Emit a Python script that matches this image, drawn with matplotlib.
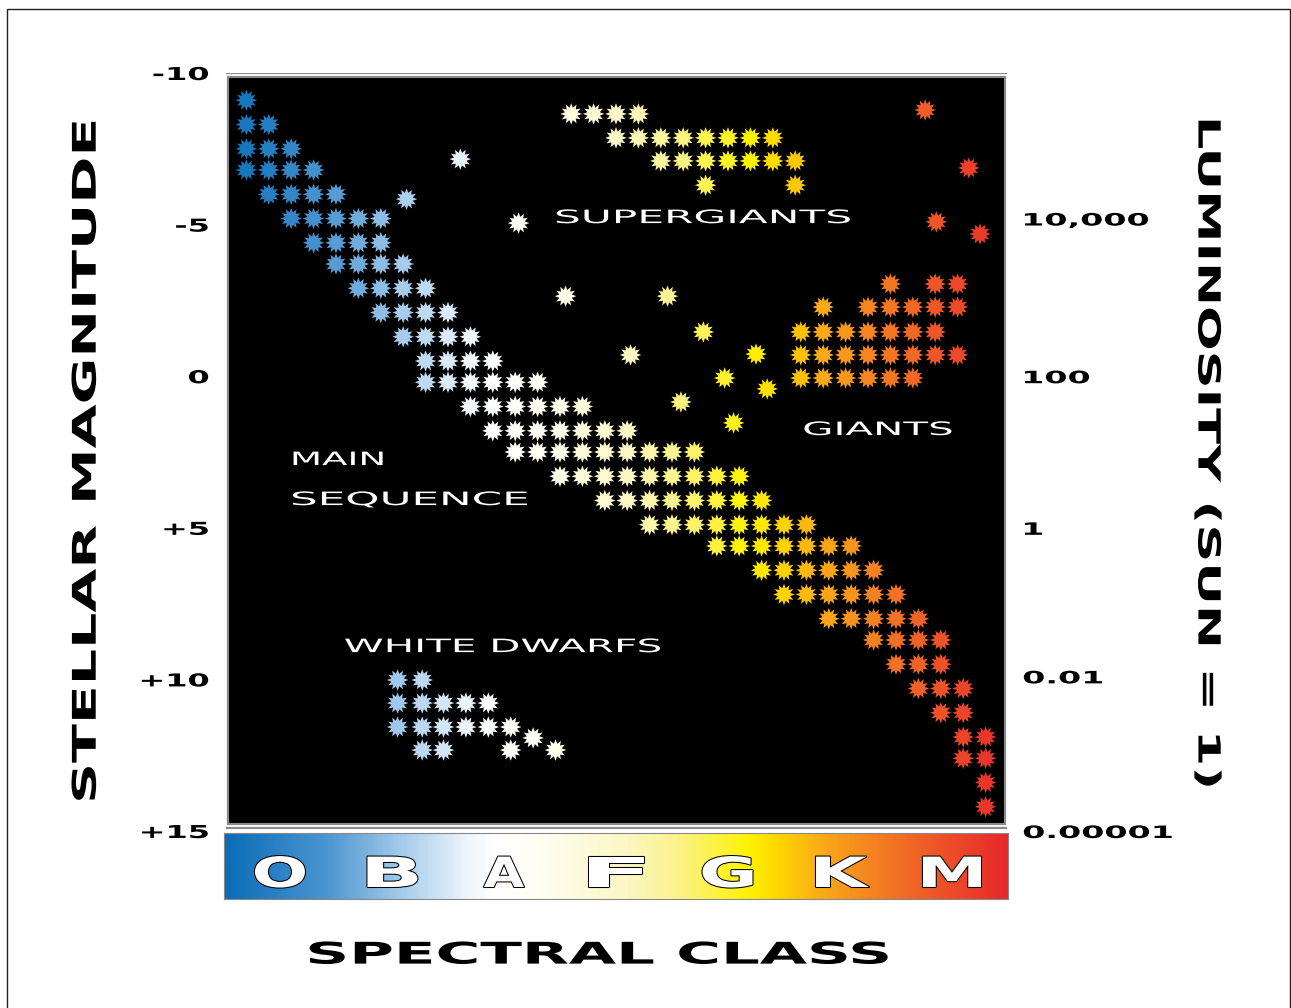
import numpy as np
import matplotlib
matplotlib.use('Agg')
import matplotlib.pyplot as plt
from matplotlib import patheffects
from matplotlib.colors import LinearSegmentedColormap
from matplotlib.patches import Rectangle
from matplotlib.path import Path
from matplotlib.transforms import Affine2D

plt.rcParams['font.family'] = 'DejaVu Sans'

# ---- data (spectral class 0..7 = O..M, absolute magnitude) ----
classes = ['O', 'B', 'A', 'F', 'G', 'K', 'M']
class_pos = [0.5, 1.5, 2.5, 3.5, 4.5, 5.5, 6.5]

mag_ticks = [-10, -5, 0, 5, 10, 15]
mag_labels = ['-10', '-5', '0', '+5', '+10', '+15']
lum_ticks = [-5.2, 0, 5, 9.9, 15]
lum_labels = ['10,000', '100', '1', '0.01', '0.00001']

# main sequence, one row of stars per magnitude
ms_mag = [-9.1, -8.3, -7.5, -6.8, -6.0, -5.2, -4.4, -3.7, -2.9, -2.1, -1.3, -0.5,
          0.2, 1.0, 1.8, 2.5, 3.3, 4.1, 4.9, 5.6, 6.4, 7.2, 8.0, 8.7, 9.5,
          10.3, 11.1, 11.9, 12.6, 13.4, 14.2]
ms_x = [
    [0.2],
    [0.2, 0.4],
    [0.2, 0.4, 0.6],
    [0.2, 0.4, 0.6, 0.8],
    [0.4, 0.6, 0.8, 1.0],
    [0.6, 0.8, 1.0, 1.2, 1.4],
    [0.8, 1.0, 1.2, 1.4],
    [1.0, 1.2, 1.4, 1.6],
    [1.2, 1.4, 1.6, 1.8],
    [1.4, 1.6, 1.8, 2.0],
    [1.6, 1.8, 2.0, 2.2],
    [1.8, 2.0, 2.2, 2.4],
    [1.8, 2.0, 2.2, 2.4, 2.6, 2.8],
    [2.2, 2.4, 2.6, 2.8, 3.0, 3.2],
    [2.4, 2.6, 2.8, 3.0, 3.2, 3.4, 3.6],
    [2.6, 2.8, 3.0, 3.2, 3.4, 3.6, 3.8, 4.0, 4.2],
    [3.0, 3.2, 3.4, 3.6, 3.8, 4.0, 4.2, 4.4, 4.6],
    [3.4, 3.6, 3.8, 4.0, 4.2, 4.4, 4.6, 4.8],
    [3.8, 4.0, 4.2, 4.4, 4.6, 4.8, 5.0, 5.2],
    [4.4, 4.6, 4.8, 5.0, 5.2, 5.4, 5.6],
    [4.8, 5.0, 5.2, 5.4, 5.6, 5.8],
    [5.0, 5.2, 5.4, 5.6, 5.8, 6.0],
    [5.4, 5.6, 5.8, 6.0, 6.2],
    [5.8, 6.0, 6.2, 6.4],
    [6.0, 6.2, 6.4],
    [6.2, 6.4, 6.6],
    [6.4, 6.6],
    [6.6, 6.8],
    [6.6, 6.8],
    [6.8],
    [6.8],
]

# supergiants
sg_mag = [-8.65, -7.86, -7.1, -6.3]
sg_x = [
    [3.1, 3.3, 3.5, 3.7],
    [3.5, 3.7, 3.9, 4.1, 4.3, 4.5, 4.7, 4.9],
    [3.9, 4.1, 4.3, 4.5, 4.7, 4.9, 5.1],
    [4.3, 5.1],
]
rsg_x = [6.26, 6.65, 6.36, 6.75]
rsg_mag = [-8.78, -6.87, -5.09, -4.69]

# giants
gi_mag = [-3.04, -2.28, -1.46, -0.7, 0.06]
gi_x = [
    [5.95, 6.35, 6.55],
    [5.35, 5.75, 5.95, 6.15, 6.35, 6.55],
    [5.15, 5.35, 5.55, 5.75, 5.95, 6.15, 6.35],
    [5.15, 5.35, 5.55, 5.75, 5.95, 6.15, 6.35, 6.55],
    [5.15, 5.35, 5.55, 5.75, 5.95, 6.15],
]

# loose stars between the groups
lone_x = [2.11, 1.63, 2.63, 3.05, 3.96, 4.28, 3.63, 4.75, 4.47, 4.85, 4.08, 4.55]
lone_mag = [-7.16, -5.84, -5.05, -2.64, -2.64, -1.46, -0.7, -0.73, 0.06, 0.42, 0.85, 1.54]

# white dwarfs
wd_mag = [10.02, 10.78, 11.57, 11.93, 12.33]
wd_x = [
    [1.55, 1.77],
    [1.55, 1.77, 1.96, 2.16, 2.36],
    [1.55, 1.77, 1.96, 2.16, 2.36, 2.56],
    [2.76],
    [1.77, 1.96, 2.56, 2.96],
]

# spectral colour ramp (position in class units, colour)
ramp = [(0.0, '#0b6cb7'), (0.9, '#4b95d0'), (1.57, '#a3cbeb'), (2.16, '#eef5fc'),
        (2.4, '#ffffff'), (2.8, '#fffef3'), (3.6, '#fcf7c4'), (4.05, '#fbf38a'),
        (4.7, '#fff200'), (4.95, '#fed700'), (5.4, '#f9a51b'), (5.85, '#f47e21'),
        (6.3, '#ee5b28'), (7.0, '#e8282b')]
cmap = LinearSegmentedColormap.from_list('spec', [(p / 7.0, c) for p, c in ramp])


class Wide(patheffects.AbstractPathEffect):
    # stretches glyphs sideways to mimic an extended display font
    def __init__(self, sx=None, width=None, anchor='center', edge=None, lw=0):
        super().__init__()
        self.sx = sx
        self.width = width
        self.anchor = anchor
        self.edge = edge
        self.lw = lw

    def draw_path(self, renderer, gc, tpath, affine, rgbFace=None):
        ext = tpath.get_extents()
        m = affine.get_matrix()
        s = np.sqrt(abs(m[0, 0] * m[1, 1] - m[0, 1] * m[1, 0]))
        sx = self.sx if self.width is None else self.width / (ext.width * s)
        if self.anchor == 'left':
            x0 = ext.x0
        elif self.anchor == 'right':
            x0 = ext.x1
        else:
            x0 = (ext.x0 + ext.x1) / 2
        aff = Affine2D().translate(-x0, 0).scale(sx, 1).translate(x0, 0) + affine
        if self.edge is not None:
            gc0 = renderer.new_gc()
            gc0.copy_properties(gc)
            gc0.set_foreground(self.edge)
            gc0.set_linewidth(self.lw)
            gc0.set_joinstyle('round')
            renderer.draw_path(gc0, tpath, aff, rgbFace)
            gc0.restore()
        renderer.draw_path(gc, tpath, aff, rgbFace)


def flatten(xrows, mags):
    xs, ys = [], []
    for row, m in zip(xrows, mags):
        xs += row
        ys += [m] * len(row)
    return xs, ys


W, H = 1291, 1008
fig = plt.figure(figsize=(W / 100, H / 100), dpi=100)
fig.patch.set_facecolor('white')

# outer frame
fig.add_artist(Rectangle((7 / W, -0.01), (1290 - 7) / W, 1 - 9 / H + 0.01,
                         transform=fig.transFigure, fill=False,
                         edgecolor='#222222', linewidth=1.0))

ax = fig.add_axes([226 / W, 1 - 831 / H, 781 / W, 758 / H])
ax.patch.set_visible(False)
ax.set_xlim(0.018, 6.991)
ax.set_ylim(15, -10)
for s in ax.spines.values():
    s.set_visible(False)

y0 = (831 - 826) / 758
y1 = (831 - 75) / 758
ax.add_patch(Rectangle((0, y0), 1, y1 - y0, transform=ax.transAxes,
                       facecolor='black', edgecolor='#8a8a8a', linewidth=4.4, zorder=0))
ax.add_patch(Rectangle((0, y0), 1, y1 - y0, transform=ax.transAxes,
                       fill=False, edgecolor='white', linewidth=1.3, zorder=1))

star = Path.unit_regular_star(12, 0.6)
groups = [flatten(ms_x, ms_mag), flatten(sg_x, sg_mag), (rsg_x, rsg_mag),
          flatten(gi_x, gi_mag), (lone_x, lone_mag), flatten(wd_x, wd_mag)]
for xs, ys in groups:
    ax.scatter(xs, ys, c=xs, cmap=cmap, vmin=0, vmax=7, marker=star,
               s=240, linewidths=0, zorder=3)

# region names
labels = [('SUPERGIANTS', 4.28, -5.05, 293), ('GIANTS', 5.84, 1.94, 147),
          ('MAIN', 1.02, 2.93, 89), ('SEQUENCE', 1.66, 4.25, 234),
          ('WHITE DWARFS', 2.49, 9.10, 315)]
for txt, x, y, w in labels:
    ax.text(x, y, txt, color='white', fontsize=13.3, ha='center', va='baseline',
            zorder=4, path_effects=[Wide(width=w)])

ax.set_xticks([])
ax.set_yticks(mag_ticks, mag_labels)
ax.tick_params(axis='y', length=0, pad=12.2, labelsize=12.8)
for t in ax.get_yticklabels():
    t.set_fontweight('bold')
    t.set_path_effects([Wide(sx=1.8, anchor='right')])

ax.set_ylabel('STELLAR MAGNITUDE', fontsize=23.5, fontweight='bold',
              ha='center', va='center')
ax.yaxis.set_label_coords(-0.179, 0.488)
ax.yaxis.label.set_path_effects([Wide(width=678)])

ax2 = ax.twinx()
ax2.set_ylim(15, -10)
for s in ax2.spines.values():
    s.set_visible(False)
ax2.set_yticks(lum_ticks, lum_labels)
ax2.tick_params(axis='y', length=0, pad=11.5, labelsize=12.3)
for t in ax2.get_yticklabels():
    t.set_fontweight('bold')
    t.set_path_effects([Wide(sx=1.95, anchor='left')])
ax2.set_ylabel('LUMINOSITY (SUN = 1)', fontsize=22, fontweight='bold',
               rotation=270, ha='center', va='center')
ax2.yaxis.set_label_coords(1.256, 0.4993)
ax2.yaxis.label.set_path_effects([Wide(width=665)])

# spectral class bar
cax = fig.add_axes([224 / W, 1 - 899 / H, 784 / W, 66 / H])
cax.imshow(np.linspace(0, 7, 700).reshape(1, -1), extent=(0, 7, 0, 1),
           aspect='auto', cmap=cmap, vmin=0, vmax=7)
cax.set_xlim(0, 7)
cax.set_ylim(0, 1)
for s in cax.spines.values():
    s.set_color('#888888')
    s.set_linewidth(0.8)
cax.set_yticks([])
cax.set_xticks(class_pos, classes)
cax.tick_params(axis='x', length=0, pad=-17.3, labelsize=30, labelcolor='white')
letter_w = [50, 50, 40, 55, 50, 53, 58]
for t, w in zip(cax.get_xticklabels(), letter_w):
    t.set_va('center')
    t.set_fontweight('bold')
    t.set_path_effects([Wide(width=w, edge='black', lw=1.5)])

cax.set_xlabel('SPECTRAL CLASS', fontsize=21.5, fontweight='bold', va='center')
cax.xaxis.set_label_coords(0.478, -0.85)
cax.xaxis.label.set_path_effects([Wide(width=578)])

fig.savefig('out.png', dpi=100, facecolor='white')
